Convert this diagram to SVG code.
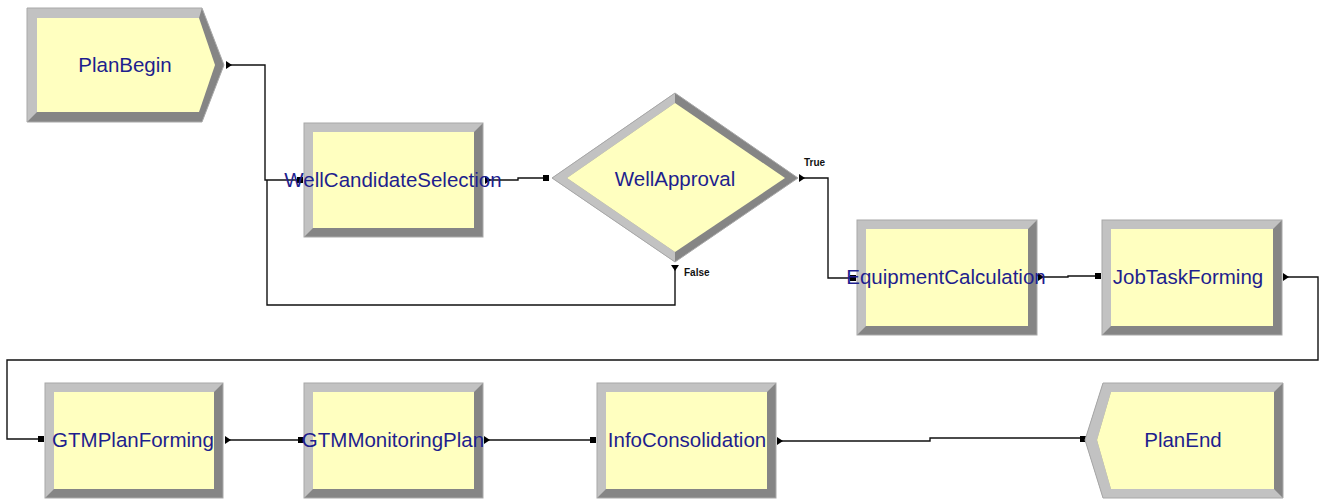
<svg xmlns="http://www.w3.org/2000/svg" width="1325" height="500" viewBox="0 0 1325 500">
  <style>
    .dark { fill: #858585; }
    .light { fill: #c2c2c2; }
    .face { fill: #ffffc0; }
    .rim { fill: none; stroke: #a8a8a8; stroke-width: 1; }
    .label { font-family: "Liberation Sans", Arial, sans-serif; font-size: 20.5px; fill: #1e1e8e; text-anchor: middle; }
    .tag { font-family: "Liberation Sans", Arial, sans-serif; font-size: 10px; font-weight: bold; fill: #111; }
    .wire { fill: none; stroke: #111; stroke-width: 1.4; }
    .inport { fill: #000; }
    .outport { fill: #000; }
  </style>
  <rect width="1325" height="500" fill="#ffffff"/>

  <!-- connectors -->
  <g id="connectors">
    <path class="wire" d="M228,65 H265 V180 H300"/>
    <path class="wire" d="M675,268 V305 H267 V180"/>
    <path class="wire" d="M488,180 H518 V178 H546"/>
    <path class="wire" d="M803,178 H828 V278 H853"/>
    <path class="wire" d="M1041,277 H1068 V276 H1097"/>
    <path class="wire" d="M1286,277 H1318 V360 H7 V439 H41"/>
    <path class="wire" d="M228,440 H301"/>
    <path class="wire" d="M488,440 H593"/>
    <path class="wire" d="M781,441 H930 V438 H1083"/>
    <!-- entry ports -->
    <rect class="inport" x="297" y="177" width="6" height="6"/>
    <rect class="inport" x="543" y="175" width="6" height="6"/>
    <rect class="inport" x="850" y="275" width="6" height="6"/>
    <rect class="inport" x="1095" y="273" width="6" height="6"/>
    <rect class="inport" x="38" y="436" width="6" height="6"/>
    <rect class="inport" x="298" y="437" width="6" height="6"/>
    <rect class="inport" x="590" y="437" width="6" height="6"/>
    <rect class="inport" x="1080" y="436" width="6" height="6"/>
    <!-- exit ports -->
    <path class="outport" d="M226,61 L232,65 L226,69 Z"/>
    <path class="outport" d="M485,176 L491,180 L485,184 Z"/>
    <path class="outport" d="M799,174 L805,178 L799,182 Z"/>
    <path class="outport" d="M671,265 L679,265 L675,271 Z"/>
    <path class="outport" d="M1038,273 L1044,277 L1038,281 Z"/>
    <path class="outport" d="M1283,273 L1289,277 L1283,281 Z"/>
    <path class="outport" d="M225,436 L231,440 L225,444 Z"/>
    <path class="outport" d="M484,436 L490,440 L484,444 Z"/>
    <path class="outport" d="M777,437 L783,441 L777,445 Z"/>
    <text class="tag" x="804" y="166">True</text>
    <text class="tag" x="684" y="276">False</text>
  </g>

  <!-- PlanBegin (create) -->
  <g id="PlanBegin">
    <polygon class="dark" points="27,8 202,8 224,65 202,122 27,122"/>
    <polygon class="light" points="27,8 202,8 199,18 37,18 37,112 27,122"/>
    <polygon class="face" points="37,18 199,18 215,65 199,112 37,112"/>
    <polygon class="rim" points="27,8 202,8 224,65 202,122 27,122"/>
    <text class="label" x="125" y="72">PlanBegin</text>
  </g>

  <!-- WellCandidateSelection (process) -->
  <g id="WellCandidateSelection">
    <rect class="dark" x="304" y="123" width="179" height="114"/>
    <polygon class="light" points="304,123 483,123 474,132 313,132 313,228 304,237"/>
    <rect class="face" x="313" y="132" width="161" height="96"/>
    <rect class="rim" x="304" y="123" width="179" height="114"/>
    <text class="label" x="393" y="187">WellCandidateSelection</text>
  </g>

  <!-- WellApproval (decide) -->
  <g id="WellApproval">
    <polygon class="dark" points="552,178 675,93 798,178 675,262"/>
    <polygon class="light" points="552,178 675,93 675,103 567,178 675,252 675,262"/>
    <polygon class="face" points="567,178 675,103 785,178 675,252"/>
    <polygon class="rim" points="552,178 675,93 798,178 675,262"/>
    <text class="label" x="675" y="186">WellApproval</text>
  </g>

  <!-- EquipmentCalculation (process) -->
  <g id="EquipmentCalculation">
    <rect class="dark" x="857" y="220" width="180" height="115"/>
    <polygon class="light" points="857,220 1037,220 1028,229 866,229 866,326 857,335"/>
    <rect class="face" x="866" y="229" width="162" height="97"/>
    <rect class="rim" x="857" y="220" width="180" height="115"/>
    <text class="label" x="946" y="284">EquipmentCalculation</text>
  </g>

  <!-- JobTaskForming (process) -->
  <g id="JobTaskForming">
    <rect class="dark" x="1102" y="220" width="180" height="115"/>
    <polygon class="light" points="1102,220 1282,220 1273,229 1111,229 1111,326 1102,335"/>
    <rect class="face" x="1111" y="229" width="162" height="97"/>
    <rect class="rim" x="1102" y="220" width="180" height="115"/>
    <text class="label" x="1188" y="284">JobTaskForming</text>
  </g>

  <!-- GTMPlanForming (process) -->
  <g id="GTMPlanForming">
    <rect class="dark" x="45" y="383" width="178" height="115"/>
    <polygon class="light" points="45,383 223,383 214,392 54,392 54,489 45,498"/>
    <rect class="face" x="54" y="392" width="160" height="97"/>
    <rect class="rim" x="45" y="383" width="178" height="115"/>
    <text class="label" x="133" y="447">GTMPlanForming</text>
  </g>

  <!-- GTMMonitoringPlan (process) -->
  <g id="GTMMonitoringPlan">
    <rect class="dark" x="304" y="383" width="179" height="115"/>
    <polygon class="light" points="304,383 483,383 474,392 313,392 313,489 304,498"/>
    <rect class="face" x="313" y="392" width="161" height="97"/>
    <rect class="rim" x="304" y="383" width="179" height="115"/>
    <text class="label" x="393" y="447">GTMMonitoringPlan</text>
  </g>

  <!-- InfoConsolidation (process) -->
  <g id="InfoConsolidation">
    <rect class="dark" x="597" y="383" width="179" height="115"/>
    <polygon class="light" points="597,383 776,383 767,392 606,392 606,489 597,498"/>
    <rect class="face" x="606" y="392" width="161" height="97"/>
    <rect class="rim" x="597" y="383" width="179" height="115"/>
    <text class="label" x="687" y="447">InfoConsolidation</text>
  </g>

  <!-- PlanEnd (dispose) -->
  <g id="PlanEnd">
    <polygon class="dark" points="1103,383 1283,383 1283,498 1103,498 1085,440"/>
    <polygon class="light" points="1103,383 1283,383 1274,392 1111,392 1097,440 1111,489 1274,489 1283,498 1103,498 1085,440"/>
    <polygon class="face" points="1111,392 1274,392 1274,489 1111,489 1097,440"/>
    <polygon class="rim" points="1103,383 1283,383 1283,498 1103,498 1085,440"/>
    <text class="label" x="1183" y="447">PlanEnd</text>
  </g>
</svg>
